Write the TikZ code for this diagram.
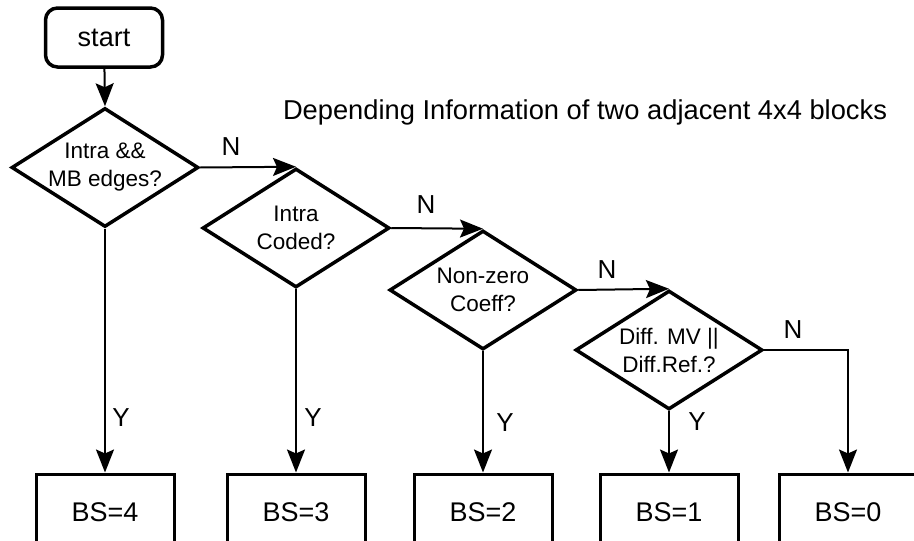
\documentclass[tikz,border=0pt]{standalone}
\usepackage{fontspec}
\setmainfont{Liberation Sans}
\usepackage{tikz}
\usetikzlibrary{shapes.geometric,arrows.meta}

\tikzset{
  startbox/.style={rectangle, draw, rounded corners=12pt, line width=3.5pt,
    minimum width=117pt, minimum height=59pt, font=\fontsize{27}{30}\selectfont},
  decision/.style={diamond, draw, line width=3.5pt, aspect=1.57,
    minimum width=187pt, minimum height=119pt, inner sep=-4pt, align=center,
    font=\fontsize{22.5}{28}\selectfont},
  bsbox/.style={rectangle, draw, line width=3pt, minimum width=138pt,
    minimum height=76pt, font=\fontsize{27}{30}\selectfont},
  lbl/.style={inner sep=0pt, font=\fontsize{26}{30}\selectfont},
  flow/.style={draw, line width=2pt, -{Stealth[length=23pt,width=18pt,inset=4pt]}}
}

\begin{document}
\begin{tikzpicture}[x=1pt,y=-1pt]
    %% \draw[help lines] (0,0) grid (914,541);
    \useasboundingbox (0,0) rectangle (914,541);
    \clip (0,0) rectangle (914,541);
    \node[startbox] (start) at (104,37.5) {start};
    \node[lbl, font=\fontsize{27.3}{30}\selectfont] (title) at (585,112)
      {Depending Information of two adjacent 4x4 blocks};
    \node[decision] (d1) at (105,167.5) {Intra \&\&\\MB edges?};
    \node[decision] (d2) at (296,228) {Intra\\Coded?};
    \node[decision] (d3) at (483,290) {Non-zero\\Coeff?};
    \node[decision] (d4) at (669,350) {Diff. MV ||\\Diff.Ref.?};
    \node[bsbox] (b4) at (105,512) {BS=4};
    \node[bsbox] (b3) at (296,512) {BS=3};
    \node[bsbox] (b2) at (483,512) {BS=2};
    \node[bsbox] (b1) at (669,512) {BS=1};
    \node[bsbox] (b0) at (848,512) {BS=0};
    \node[lbl] (n1) at (231,147) {N};
    \node[lbl] (n2) at (426,205) {N};
    \node[lbl] (n3) at (607,270) {N};
    \node[lbl] (n4) at (793,330) {N};
    \node[lbl] (y1) at (121,418) {Y};
    \node[lbl] (y2) at (313,418) {Y};
    \node[lbl] (y3) at (505,423) {Y};
    \node[lbl] (y4) at (697,422) {Y};
    \draw[flow] (start) -- (d1.north);
    \draw[flow] (d1.east) -- (d2.north);
    \draw[flow] (d2.east) -- (d3.north);
    \draw[flow] (d3.east) -- (d4.north);
    \draw[flow] (d4.east) -| (b0.north);
    \draw[flow] (d1.south) -- (b4.north);
    \draw[flow] (d2.south) -- (b3.north);
    \draw[flow] (d3.south) -- (b2.north);
    \draw[flow] (d4.south) -- (b1.north);
  \end{tikzpicture}
\end{document}
